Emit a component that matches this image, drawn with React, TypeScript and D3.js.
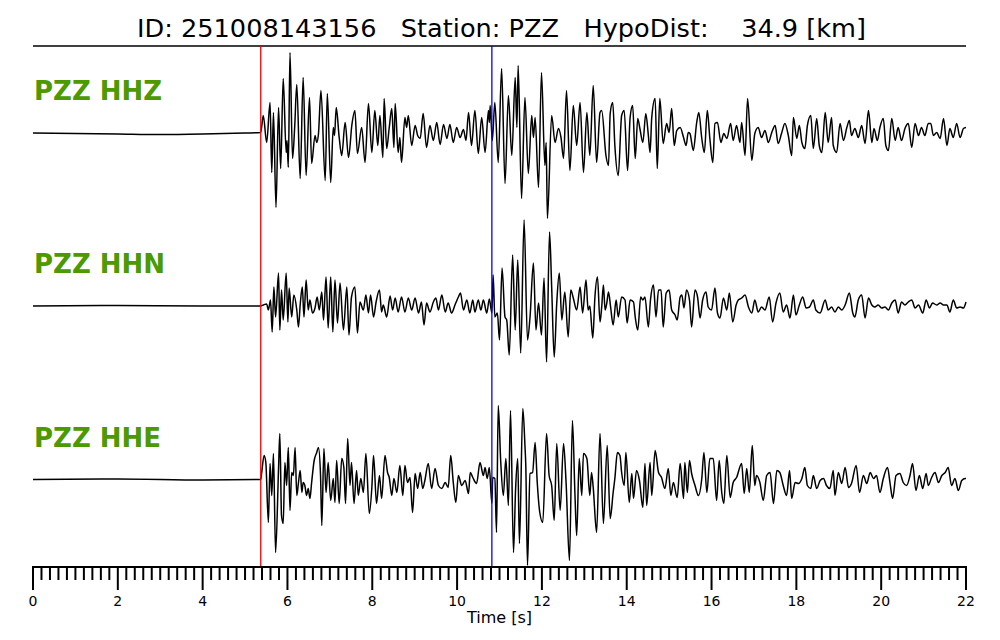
import React from "react";
import * as d3 from "d3";

const TITLE = "ID: 251008143156   Station: PZZ   HypoDist:    34.9 [km]";
const CHANNELS = ["PZZ HHZ", "PZZ HHN", "PZZ HHE"];
const P_PICK = 5.37;
const S_PICK = 10.82;
const T_MAX = 22;
const MAJOR_TICKS = [0, 2, 4, 6, 8, 10, 12, 14, 16, 18, 20, 22];
const X_LABEL = "Time [s]";

// [time s, amplitude (normalized counts)]
const hhz: [number, number][] = [
  [0,-0.5],[1,-1],[2,-1.5],[3,-2],[4,-1.5],[5,-0.5],[5.37,0],
  [5.43,17],[5.51,-10],[5.59,30],[5.63,-40],[5.67,20],[5.73,-75],[5.79,25],[5.84,-36],[5.90,54],[5.97,-20],[5.99,-8],[6.02,-35],[6.06,80],[6.12,-26],[6.17,5],[6.22,48],[6.30,-46],[6.37,55],[6.44,-43],[6.52,35],[6.57,-31],[6.65,-3],[6.69,-10],[6.73,-2],[6.79,42],[6.89,-48],[6.94,39],[7.02,-50],[7.08,5],[7.11,-3],[7.15,25],[7.22,-5],[7.28,-23],[7.36,10],[7.44,-25],[7.52,8],[7.59,22],[7.65,-21],[7.75,5],[7.83,-30],[7.91,29],[7.99,-20],[8.06,22],[8.13,-13],[8.18,17],[8.25,-25],[8.28,34],[8.34,-16],[8.40,5],[8.46,24],[8.51,-15],[8.54,29],[8.61,-20],[8.65,-5],[8.69,-30],[8.77,15],[8.81,5],[8.85,17],[8.93,-13],[9.01,7],[9.07,-3],[9.13,-6],[9.20,19],[9.28,-15],[9.36,7],[9.44,-8],[9.52,10],[9.60,-12],[9.68,8],[9.76,-6],[9.83,8],[9.91,-10],[9.99,5],[10.07,-5],[10.15,3],[10.21,-8],[10.27,20],[10.34,-13],[10.42,22],[10.50,-21],[10.58,15],[10.66,-20],[10.74,22],[10.76,10],[10.78,27],[10.83,-8],[10.89,30],[10.97,-30],[11.05,64],[11.13,-51],[11.21,37],[11.29,-23],[11.37,55],[11.41,5],[11.44,67],[11.52,-66],[11.60,35],[11.68,-41],[11.76,17],[11.80,-5],[11.84,15],[11.92,-55],[11.99,60],[12.07,-33],[12.10,-10],[12.13,-86],[12.23,17],[12.31,-10],[12.39,4],[12.45,-5],[12.51,-26],[12.58,42],[12.66,-38],[12.74,27],[12.82,-13],[12.90,30],[12.98,-40],[13.06,20],[13.13,-23],[13.21,47],[13.29,-30],[13.37,20],
  [13.41,22],[13.51,-23],[13.57,-33],[13.61,19],[13.67,30],[13.72,-13],[13.80,-43],[13.88,17],[13.94,22],[14.02,-38],[14.08,15],[14.14,27],[14.20,-26],[14.26,14],[14.31,4],[14.38,-10],[14.45,19],[14.51,-3],[14.55,-20],[14.59,15],[14.67,34],[14.72,-36],[14.78,34],[14.86,-11],[14.94,9],[15.00,0],[15.06,24],[15.12,-13],[15.18,2],[15.26,5],[15.34,-5],[15.40,-13],[15.45,0],[15.49,-1],[15.57,-18],[15.65,10],[15.70,20],[15.77,-6],[15.83,-20],[15.90,22],[15.96,-6],[16.03,-30],[16.08,9],[16.14,10],[16.22,-10],[16.29,-1],[16.36,-6],[16.45,9],[16.51,-8],[16.59,7],[16.67,-10],[16.71,10],[16.79,-23],[16.85,34],[16.95,-28],[17.02,-1],[17.10,5],[17.18,-5],[17.26,2],[17.34,-10],[17.42,0],[17.50,7],[17.57,-11],[17.65,-1],[17.73,9],[17.81,-3],[17.89,-23],[17.93,15],[18.01,-6],[18.07,7],[18.13,-10],[18.20,-16],[18.26,7],[18.34,17],[18.40,-16],[18.48,14],[18.54,-13],[18.60,-20],[18.68,20],[18.75,-10],[18.83,15],[18.87,-13],[18.95,-20],[19.03,9],[19.11,-8],[19.19,5],[19.25,12],[19.30,-3],[19.38,4],[19.46,-5],[19.54,7],[19.62,-11],[19.70,22],[19.78,-10],[19.83,4],[19.91,-8],[19.97,5],[20.05,14],[20.11,-13],[20.17,-18],[20.25,14],[20.33,-8],[20.40,5],[20.48,-8],[20.56,4],[20.64,9],[20.72,-15],[20.80,9],[20.88,-3],[20.95,5],[21.03,-3],[21.11,9],[21.17,9],[21.23,-3],[21.31,0],[21.39,-6],[21.47,14],[21.55,-13],[21.62,4],[21.70,-5],[21.78,9],[21.86,-5],[21.94,4],[22.00,5],
];

const hhn: [number, number][] = [
  [0,0],[2,0.5],[4,0],[5.37,0],
  [5.43,1],[5.51,2],[5.55,-4],[5.60,6],[5.64,-26],[5.68,19],[5.72,-11],[5.79,33],[5.82,-24],[5.86,16],[5.90,-14],[5.97,33],[6.01,-16],[6.04,18],[6.10,-11],[6.15,11],[6.22,-4],[6.26,-21],[6.30,1],[6.35,19],[6.39,-11],[6.44,26],[6.49,-4],[6.53,6],[6.59,-7],[6.65,-2],[6.70,9],[6.75,-4],[6.81,14],[6.85,-14],[6.91,29],[6.96,-22],[7.02,29],[7.07,-26],[7.12,26],[7.18,-17],[7.24,23],[7.32,-24],[7.40,19],[7.45,-29],[7.51,9],[7.59,19],[7.65,-27],[7.71,4],[7.79,-4],[7.85,11],[7.91,-7],[7.96,11],[8.03,-11],[8.09,4],[8.17,16],[8.22,-6],[8.26,1],[8.34,-11],[8.42,10],[8.48,-4],[8.54,8],[8.61,-6],[8.69,9],[8.77,-6],[8.85,8],[8.93,-4],[9.01,8],[9.09,-7],[9.16,4],[9.22,-19],[9.28,3],[9.36,-6],[9.44,4],[9.50,8],[9.56,-4],[9.64,11],[9.72,-6],[9.79,3],[9.87,-7],[9.95,1],[10.03,9],[10.08,13],[10.15,-4],[10.23,6],[10.30,-7],[10.37,6],[10.42,-6],[10.50,6],[10.56,-4],[10.62,6],[10.70,-7],[10.76,7],[10.82,-7],[10.85,31],[10.89,-11],[10.95,-7],[11.00,-34],[11.06,38],[11.13,-11],[11.17,-14],[11.23,-49],[11.31,51],[11.37,-24],[11.43,46],[11.50,-47],[11.58,86],[11.66,-34],[11.72,-11],[11.80,43],[11.86,-24],[11.92,3],[11.99,-29],[12.05,28],[12.11,-56],[12.18,74],[12.23,19],[12.29,-51],[12.35,3],[12.41,33],[12.47,-14],[12.54,14],[12.62,-31],[12.68,16],[12.74,8],[12.82,-4],[12.90,19],[12.96,-7],[13.04,26],[13.09,-4],[13.13,0],[13.20,-32],[13.25,9],[13.31,29],[13.37,-16],
  [13.41,-1],[13.45,21],[13.49,-4],[13.53,3],[13.57,14],[13.62,-1],[13.68,-19],[13.75,6],[13.80,-11],[13.88,9],[13.96,6],[14.01,-17],[14.08,6],[14.16,4],[14.20,-11],[14.26,-24],[14.33,9],[14.38,6],[14.43,9],[14.51,-21],[14.56,6],[14.63,21],[14.69,-11],[14.75,16],[14.81,16],[14.86,-21],[14.93,13],[15.00,16],[15.06,-4],[15.14,-9],[15.19,-14],[15.26,9],[15.30,11],[15.35,-2],[15.41,16],[15.48,6],[15.53,-21],[15.61,16],[15.67,9],[15.73,-12],[15.79,6],[15.87,14],[15.92,-1],[16.00,-4],[16.08,18],[16.14,-7],[16.20,-12],[16.28,8],[16.36,-4],[16.42,13],[16.50,-16],[16.58,1],[16.63,6],[16.71,8],[16.79,11],[16.87,-1],[16.95,-7],[17.02,6],[17.10,-6],[17.18,-1],[17.26,-4],[17.36,9],[17.44,-16],[17.52,3],[17.61,13],[17.69,-6],[17.77,1],[17.85,-12],[17.93,11],[17.99,-9],[18.07,1],[18.15,9],[18.23,-2],[18.31,-1],[18.40,6],[18.46,-4],[18.56,-7],[18.68,6],[18.75,-4],[18.83,-1],[18.91,-6],[18.99,-1],[19.07,-4],[19.15,1],[19.25,13],[19.33,-7],[19.38,-11],[19.46,6],[19.54,11],[19.62,-12],[19.70,8],[19.78,1],[19.85,-1],[19.93,1],[20.01,-2],[20.09,-1],[20.17,-4],[20.25,3],[20.33,6],[20.40,-7],[20.48,4],[20.56,1],[20.64,4],[20.72,6],[20.80,-2],[20.88,1],[20.98,-7],[21.06,6],[21.14,-2],[21.21,3],[21.31,1],[21.39,3],[21.47,1],[21.55,1],[21.62,-6],[21.70,6],[21.78,-2],[21.86,-1],[21.94,-2],[22.00,4],
];

const hhe: [number, number][] = [
  [0,0],[2,0.5],[4,-0.5],[5.37,0],
  [5.39,6],[5.45,24],[5.49,17],[5.55,-43],[5.59,16],[5.63,-16],[5.67,26],[5.72,-73],[5.79,11],[5.82,46],[5.86,-36],[5.90,-44],[5.94,17],[5.98,-6],[6.02,32],[6.06,-31],[6.10,7],[6.14,4],[6.18,32],[6.22,-16],[6.26,-3],[6.30,9],[6.34,-13],[6.37,-3],[6.41,-6],[6.45,-16],[6.49,-9],[6.53,-19],[6.57,-3],[6.63,19],[6.69,27],[6.73,32],[6.78,4],[6.81,-46],[6.86,31],[6.91,-13],[6.96,17],[7.02,-21],[7.08,1],[7.12,-23],[7.16,19],[7.22,-24],[7.28,21],[7.33,12],[7.37,-24],[7.42,41],[7.475,-6],[7.51,17],[7.57,-24],[7.63,9],[7.67,-16],[7.73,1],[7.79,-13],[7.85,26],[7.93,-34],[7.99,-8],[8.03,24],[8.10,-24],[8.17,4],[8.22,-19],[8.30,24],[8.36,7],[8.40,2],[8.46,-16],[8.51,1],[8.58,-13],[8.65,14],[8.72,-16],[8.77,14],[8.83,-3],[8.89,2],[8.95,-33],[9.01,6],[9.07,-9],[9.13,7],[9.19,-9],[9.24,-1],[9.32,16],[9.40,-9],[9.48,11],[9.56,-6],[9.64,-9],[9.72,-3],[9.79,-8],[9.85,24],[9.91,-3],[9.97,-23],[10.03,4],[10.11,-6],[10.19,-1],[10.27,-14],[10.31,7],[10.37,2],[10.46,-4],[10.54,17],[10.62,4],[10.66,12],[10.71,1],[10.76,12],[10.82,-24],[10.84,2],[10.89,1],[10.93,-53],[10.97,74],[11.03,17],[11.09,-16],[11.15,21],[11.21,-26],[11.26,69],[11.33,-73],[11.38,-9],[11.43,21],[11.47,-64],[11.55,71],[11.60,34],[11.62,14],[11.66,-86],[11.72,6],[11.78,7],[11.84,37],[11.89,-3],[11.95,-33],[12.02,-43],[12.11,46],[12.17,4],[12.23,-6],[12.29,-41],[12.35,36],[12.43,-31],[12.51,36],[12.57,-3],[12.65,-81],[12.72,59],[12.78,-16],[12.82,-56],[12.88,21],[12.94,-16],[12.98,26],[13.06,21],[13.13,-16],[13.17,7],[13.21,-8],[13.29,-53],[13.37,46],
  [13.45,-44],[13.54,34],[13.61,-39],[13.68,-13],[13.72,1],[13.78,27],[13.84,24],[13.88,7],[13.94,-6],[13.98,27],[14.06,-23],[14.12,6],[14.16,-19],[14.23,9],[14.30,-1],[14.38,-28],[14.43,16],[14.47,-26],[14.55,17],[14.59,-16],[14.67,29],[14.75,7],[14.82,2],[14.90,-9],[14.98,11],[15.04,-16],[15.10,-3],[15.19,-18],[15.26,16],[15.34,-19],[15.37,17],[15.43,-13],[15.48,19],[15.53,6],[15.61,-6],[15.69,-16],[15.77,1],[15.82,27],[15.89,-13],[15.96,21],[16.04,21],[16.12,-21],[16.18,19],[16.24,-13],[16.29,-24],[16.36,24],[16.44,-18],[16.51,-3],[16.59,2],[16.71,16],[16.77,-14],[16.83,11],[16.89,-13],[16.96,34],[17.02,-6],[17.06,4],[17.14,-3],[17.22,-21],[17.30,4],[17.38,7],[17.46,-24],[17.54,9],[17.61,7],[17.69,-6],[17.77,-16],[17.84,9],[17.89,-19],[17.97,-3],[18.05,-4],[18.13,1],[18.20,12],[18.26,-6],[18.34,-9],[18.40,4],[18.48,-9],[18.56,-1],[18.64,1],[18.71,-6],[18.79,-9],[18.87,9],[18.91,-16],[18.99,7],[19.07,-4],[19.15,12],[19.23,-8],[19.30,-4],[19.41,14],[19.49,-13],[19.58,4],[19.66,-4],[19.74,7],[19.82,1],[19.89,4],[19.97,-13],[20.05,1],[20.15,12],[20.21,-4],[20.27,-19],[20.35,4],[20.44,6],[20.52,-3],[20.60,-6],[20.68,4],[20.74,16],[20.82,-11],[20.90,4],[20.98,-9],[21.06,6],[21.11,-6],[21.19,2],[21.27,7],[21.35,-3],[21.43,4],[21.51,7],[21.58,12],[21.66,-6],[21.74,1],[21.82,-11],[21.90,-1],[21.98,1],[22.00,1],
];

const TRACES = [hhz, hhn, hhe];

const W = 1000;
const H = 640;
const FONT = "DejaVu Sans, sans-serif";

export default function App() {
  const x = d3.scaleLinear().domain([0, T_MAX]).range([33, 966]);
  const bases = [132.5, 306, 479.5];
  const axisY = 567;
  const minor = d3.range(0, T_MAX + 0.001, 0.2).filter((t) => Math.abs(t / 2 - Math.round(t / 2)) > 1e-6);

  return (
    <svg width={W} height={H} style={{ position: "absolute", left: 0, top: 0, background: "#fff" }}>
      <rect x={0} y={0} width={W} height={H} fill="#fff" />
      <text x={501.5} y={37} textAnchor="middle" fontFamily={FONT} fontSize={25.6} style={{ whiteSpace: "pre" }} xmlSpace="preserve">
        {TITLE}
      </text>
      <line x1={x(0)} x2={x(T_MAX)} y1={46} y2={46} stroke="#000" strokeWidth={1.5} />

      {TRACES.map((tr, i) => {
        const y = d3.scaleLinear().domain([-100, 100]).range([bases[i] + 100, bases[i] - 100]);
        const line = d3
          .line<[number, number]>()
          .x((d) => x(d[0]))
          .y((d) => y(d[1]))
          .curve(d3.curveMonotoneX);
        return (
          <g key={i}>
            <path d={line(tr) || ""} fill="none" stroke="#000" strokeWidth={1.5} strokeLinejoin="round" />
            <text x={34} y={bases[i] - 33} fontFamily={FONT} fontWeight="bold" fontSize={26} fill="#4c9900">
              {CHANNELS[i]}
            </text>
          </g>
        );
      })}

      <line x1={x(P_PICK)} x2={x(P_PICK)} y1={46} y2={axisY} stroke="#ff0000" strokeWidth={1.3} />
      <line x1={x(S_PICK)} x2={x(S_PICK)} y1={46} y2={axisY} stroke="#0000ff" strokeWidth={1.3} />

      <line x1={x(0) - 1} x2={x(T_MAX) + 1} y1={axisY} y2={axisY} stroke="#000" strokeWidth={2} />
      {minor.map((t) => (
        <line key={"m" + t} x1={x(t)} x2={x(t)} y1={axisY} y2={axisY + 13} stroke="#000" strokeWidth={2} />
      ))}
      {MAJOR_TICKS.map((t) => (
        <g key={"M" + t}>
          <line x1={x(t)} x2={x(t)} y1={axisY} y2={axisY + 23} stroke="#000" strokeWidth={2} />
          <text x={x(t)} y={606} textAnchor="middle" fontFamily={FONT} fontSize={14}>
            {t}
          </text>
        </g>
      ))}
      <text x={x(11)} y={623} textAnchor="middle" fontFamily={FONT} fontSize={16}>
        {X_LABEL}
      </text>
    </svg>
  );
}
